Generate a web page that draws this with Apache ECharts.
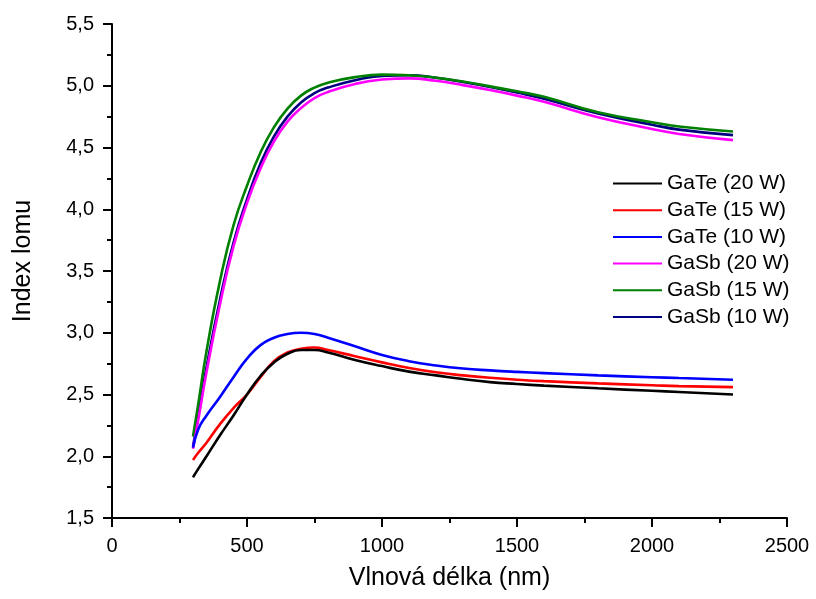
<!DOCTYPE html>
<html>
<head>
<meta charset="utf-8">
<script src="https://cdn.jsdelivr.net/npm/echarts@6/dist/echarts.min.js"></script>
<style>
html,body{margin:0;padding:0;background:#fff;}
#chart{width:816px;height:599px;}
</style>
</head>
<body>
<div id="chart"></div>
<script>
var wavelength = [300,320,350,400,450,500,550,600,650,700,750,800,900,1000,1100,1200,1300,1400,1500,1600,1800,2000,2100,2300];
var gaTe20 = [1.83,1.90,2.00,2.17,2.33,2.50,2.65,2.76,2.83,2.86,2.86,2.84,2.78,2.73,2.685,2.655,2.625,2.60,2.585,2.572,2.55,2.53,2.52,2.50];
var gaTe15 = [1.97,2.03,2.11,2.26,2.39,2.50,2.64,2.77,2.84,2.87,2.88,2.86,2.81,2.76,2.715,2.68,2.655,2.635,2.62,2.608,2.59,2.575,2.568,2.56];
var gaTe10 = [2.07,2.22,2.33,2.48,2.64,2.79,2.90,2.96,2.99,3.00,2.99,2.96,2.89,2.82,2.77,2.735,2.71,2.695,2.683,2.673,2.655,2.64,2.633,2.62];
var gaSb20 = [2.06,2.30,2.68,3.23,3.70,4.05,4.33,4.55,4.71,4.82,4.90,4.95,5.015,5.05,5.06,5.04,5.005,4.965,4.92,4.87,4.745,4.65,4.61,4.56];
var gaSb15 = [2.16,2.43,2.85,3.42,3.87,4.19,4.46,4.665,4.815,4.92,4.985,5.025,5.07,5.09,5.085,5.065,5.035,4.995,4.955,4.91,4.785,4.705,4.67,4.63];
var gaSb10 = [2.08,2.33,2.72,3.27,3.73,4.08,4.37,4.59,4.75,4.865,4.94,4.985,5.045,5.08,5.085,5.065,5.03,4.99,4.945,4.895,4.775,4.685,4.645,4.60];

var seriesNames = ['GaTe (20 W)','GaTe (15 W)','GaTe (10 W)','GaSb (20 W)','GaSb (15 W)','GaSb (10 W)'];
var seriesData = [gaTe20, gaTe15, gaTe10, gaSb20, gaSb15, gaSb10];
var seriesColors = ['#000000','#ff0000','#0000ff','#ff00ff','#008000','#000080'];

var xTitle = 'Vlnová délka (nm)';
var yTitle = 'Index lomu';

var font = 'Liberation Sans, Arial, sans-serif';

function pairs(ys){
  return wavelength.map(function(x,i){ return [x, ys[i]]; });
}

var series = seriesNames.map(function(name, i){
  return {
    name: name,
    type: 'line',
    data: pairs(seriesData[i]),
    smooth: 0.5,
    symbol: 'none',
    showSymbol: false,
    z: 10 - i,
    lineStyle: { color: seriesColors[i], width: 2.6 },
    itemStyle: { color: seriesColors[i] }
  };
});

var chart = echarts.init(document.getElementById('chart'), null, {renderer: 'canvas'});
chart.setOption({
  animation: false,
  backgroundColor: '#ffffff',
  grid: { left: 112, right: 29, top: 24, bottom: 81, containLabel: false },
  legend: {
    orient: 'vertical',
    left: 613,
    top: 173,
    padding: 0,
    icon: 'rect',
    itemWidth: 49,
    itemHeight: 2,
    itemGap: 5.7,
    data: seriesNames,
    textStyle: { fontSize: 21, fontFamily: font, color: '#000', lineHeight: 21 }
  },
  xAxis: {
    type: 'value',
    min: 0, max: 2500, interval: 500,
    name: xTitle,
    nameLocation: 'middle',
    nameGap: 48,
    nameTextStyle: { fontSize: 25, fontFamily: font, color: '#000' },
    axisLine: { show: true, onZero: false, lineStyle: { color: '#000', width: 2 } },
    axisTick: { show: true, inside: false, length: 9, lineStyle: { color: '#000', width: 2 } },
    minorTick: { show: true, splitNumber: 2, length: 5, lineStyle: { color: '#000', width: 2 } },
    splitLine: { show: false },
    axisLabel: {
      fontSize: 20, fontFamily: font, color: '#000', margin: 18,
      formatter: function(v){ return String(v); }
    }
  },
  yAxis: {
    type: 'value',
    min: 1.5, max: 5.5, interval: 0.5,
    name: yTitle,
    nameLocation: 'middle',
    nameGap: 76,
    nameTextStyle: { fontSize: 25, fontFamily: font, color: '#000', padding: [0, 0, 0, 20] },
    axisLine: { show: true, onZero: false, lineStyle: { color: '#000', width: 2 } },
    axisTick: { show: true, inside: false, length: 9, lineStyle: { color: '#000', width: 2 } },
    minorTick: { show: true, splitNumber: 2, length: 5, lineStyle: { color: '#000', width: 2 } },
    splitLine: { show: false },
    axisLabel: {
      fontSize: 20, fontFamily: font, color: '#000', margin: 18,
      formatter: function(v){ return v.toFixed(1).replace('.', ','); }
    }
  },
  series: series
});
</script>
</body>
</html>
